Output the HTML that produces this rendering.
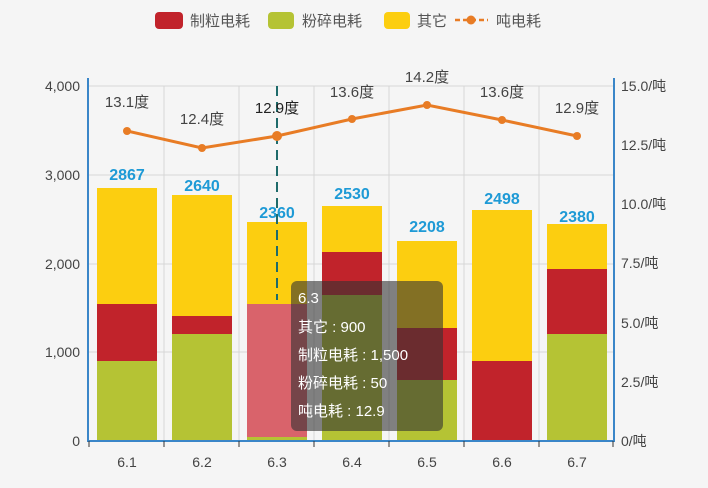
<!DOCTYPE html><html><head><meta charset="utf-8"><style>body{margin:0;background:#f5f5f5}svg{display:block;font-family:"Liberation Sans","Noto Sans CJK SC",sans-serif}</style></head><body>
<svg width="708" height="488" viewBox="0 0 708 488">
<rect width="708" height="488" fill="#f5f5f5"/>
<rect x="155" y="12" width="28" height="17" rx="4" fill="#c1232b"/><text x="190" y="26" font-size="15" fill="#555">制粒电耗</text>
<rect x="268" y="12" width="26" height="17" rx="4" fill="#b5c334"/><text x="302" y="26" font-size="15" fill="#555">粉碎电耗</text>
<rect x="384" y="12" width="26" height="17" rx="4" fill="#fcce10"/><text x="417" y="26" font-size="15" fill="#555">其它</text>
<line x1="455" y1="20" x2="488" y2="20" stroke="#e87c25" stroke-width="2.5" stroke-dasharray="5,3"/><circle cx="471" cy="20" r="4.5" fill="#e87c25"/><text x="496" y="26" font-size="15" fill="#555">吨电耗</text>
<g stroke="#d6d6d6" stroke-width="1">
<line x1="88" y1="86" x2="614" y2="86"/><line x1="88" y1="175" x2="614" y2="175"/><line x1="88" y1="264" x2="614" y2="264"/><line x1="88" y1="352" x2="614" y2="352"/>
<line x1="164" y1="86" x2="164" y2="441"/><line x1="239" y1="86" x2="239" y2="441"/><line x1="314" y1="86" x2="314" y2="441"/><line x1="389" y1="86" x2="389" y2="441"/><line x1="464" y1="86" x2="464" y2="441"/><line x1="539" y1="86" x2="539" y2="441"/>
</g>
<g>
<rect x="97" y="361" width="60" height="80" fill="#b5c334"/><rect x="97" y="304" width="60" height="57" fill="#c1232b"/><rect x="97" y="188" width="60" height="116" fill="#fcce10"/>
<rect x="172" y="334" width="60" height="107" fill="#b5c334"/><rect x="172" y="316" width="60" height="18" fill="#c1232b"/><rect x="172" y="195" width="60" height="121" fill="#fcce10"/>
<rect x="247" y="437" width="60" height="4" fill="#b5c334"/><rect x="247" y="304" width="60" height="133" fill="#d9636b"/><rect x="247" y="222" width="60" height="82" fill="#fcce10"/>
<rect x="322" y="295" width="60" height="146" fill="#b5c334"/><rect x="322" y="252" width="60" height="43" fill="#c1232b"/><rect x="322" y="206" width="60" height="46" fill="#fcce10"/>
<rect x="397" y="380" width="60" height="61" fill="#b5c334"/><rect x="397" y="328" width="60" height="52" fill="#c1232b"/><rect x="397" y="241" width="60" height="87" fill="#fcce10"/>
<rect x="472" y="361" width="60" height="80" fill="#c1232b"/><rect x="472" y="210" width="60" height="151" fill="#fcce10"/>
<rect x="547" y="334" width="60" height="107" fill="#b5c334"/><rect x="547" y="269" width="60" height="65" fill="#c1232b"/><rect x="547" y="224" width="60" height="45" fill="#fcce10"/>
</g>
<g font-size="16" font-weight="bold" fill="#1e9ad6" text-anchor="middle">
<text x="127" y="180">2867</text><text x="202" y="191">2640</text><text x="277" y="218">2360</text><text x="352" y="199">2530</text><text x="427" y="232">2208</text><text x="502" y="204">2498</text><text x="577" y="222">2380</text>
</g>
<line x1="277" y1="86" x2="277" y2="300" stroke="#1e6b6b" stroke-width="2" stroke-dasharray="10,6"/>
<line x1="88" y1="78" x2="88" y2="442" stroke="#3a86c8" stroke-width="2"/>
<line x1="614" y1="78" x2="614" y2="442" stroke="#3a86c8" stroke-width="2"/>
<line x1="88" y1="441" x2="614" y2="441" stroke="#3a86c8" stroke-width="2"/>
<g stroke="#333"><line x1="89" y1="441" x2="89" y2="447"/><line x1="164" y1="441" x2="164" y2="447"/><line x1="239" y1="441" x2="239" y2="447"/><line x1="314" y1="441" x2="314" y2="447"/><line x1="389" y1="441" x2="389" y2="447"/><line x1="464" y1="441" x2="464" y2="447"/><line x1="539" y1="441" x2="539" y2="447"/><line x1="613" y1="441" x2="613" y2="447"/></g>
<g font-size="14" fill="#444" text-anchor="end">
<text x="80" y="91">4,000</text><text x="80" y="180">3,000</text><text x="80" y="269">2,000</text><text x="80" y="357">1,000</text><text x="80" y="446">0</text>
</g>
<g font-size="14" fill="#444">
<text x="621" y="91">15.0/吨</text><text x="621" y="150">12.5/吨</text><text x="621" y="209">10.0/吨</text><text x="621" y="268">7.5/吨</text><text x="621" y="328">5.0/吨</text><text x="621" y="387">2.5/吨</text><text x="621" y="446">0/吨</text>
</g>
<g font-size="14" fill="#444" text-anchor="middle">
<text x="127" y="467">6.1</text><text x="202" y="467">6.2</text><text x="277" y="467">6.3</text><text x="352" y="467">6.4</text><text x="427" y="467">6.5</text><text x="502" y="467">6.6</text><text x="577" y="467">6.7</text>
</g>
<polyline points="127,131 202,148 277,136 352,119 427,105 502,120 577,136" fill="none" stroke="#e87c25" stroke-width="3"/>
<g fill="#e87c25"><circle cx="127" cy="131" r="4"/><circle cx="202" cy="148" r="4"/><circle cx="277" cy="136" r="5"/><circle cx="352" cy="119" r="4"/><circle cx="427" cy="105" r="4"/><circle cx="502" cy="120" r="4"/><circle cx="577" cy="136" r="4"/></g>
<g font-size="15" fill="#444" text-anchor="middle">
<text x="127" y="107">13.1度</text><text x="202" y="124">12.4度</text><text x="277" y="113" fill="#222">12.9度</text><text x="352" y="97">13.6度</text><text x="427" y="82">14.2度</text><text x="502" y="97">13.6度</text><text x="577" y="113">12.9度</text>
</g>
<rect x="291" y="281" width="152" height="150" rx="6" fill="rgba(50,50,50,0.6)"/>
<g font-size="15" fill="#fff">
<text x="298" y="303">6.3</text><text x="298" y="332">其它 : 900</text><text x="298" y="360">制粒电耗 : 1,500</text><text x="298" y="388">粉碎电耗 : 50</text><text x="298" y="416">吨电耗 : 12.9</text>
</g>
</svg></body></html>
